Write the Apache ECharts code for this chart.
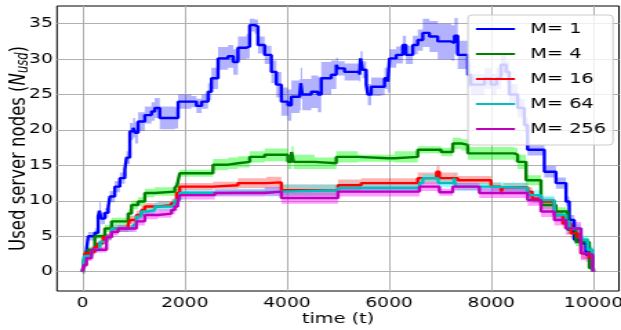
<!DOCTYPE html>
<html>
<head>
<meta charset="utf-8">
<script src="https://cdn.jsdelivr.net/npm/echarts@6.0.0/dist/echarts.min.js"></script>
<style>
  html, body { margin: 0; padding: 0; background: #fff; overflow: hidden; }
  /* the reference picture is stretched sideways, so the chart is drawn narrow and widened */
  #chart { width: 450px; height: 330px; transform: scaleX(1.38); transform-origin: 0 0; }
</style>
</head>
<body>
<div id="chart"></div>
<script>
// [time, mean, spread] for each M
var m1 = [[0,0,0.3],[40,1.5,0.5],[78,3.1,0.6],[110,5,0.6],[240,5.5,0.6],[305,7.8,0.8],[330,8.6,1.2],[360,7.5,0.8],[436,8.3,0.7],[500,9,0.8],[534,10.6,0.8],[630,12,0.8],[730,13.2,0.8],[827,14.4,0.9],[860,16.1,0.9],[925,19.8,1.2],[990,20.3,1.4],[1030,19.6,1.5],[1087,21.2,1.3],[1218,22.1,1.2],[1349,22.6,1.3],[1413,23.1,1.4],[1511,21.7,1.6],[1805,21.7,1.5],[1870,24,1.0],[2131,24,0.8],[2229,23.4,1.0],[2330,24,1.0],[2456,25.4,1.2],[2522,27.3,1.5],[2652,30.1,1.6],[2847,30.4,1.6],[2950,29.6,1.8],[3042,31.6,1.6],[3206,31.8,1.7],[3271,34.8,0.9],[3369,34.6,1.0],[3433,32,1.2],[3564,30.6,1.3],[3695,28.2,1.6],[3793,26.4,1.8],[3891,24,2.0],[4020,23.5,2.2],[4086,24.7,2.3],[4250,25,2.2],[4270,26.6,2.2],[4300,25,2.2],[4477,25.4,2.3],[4607,25,2.5],[4672,27.3,2.3],[4868,27.8,2.0],[4966,29.2,1.0],[5000,28.7,1.0],[5128,28.2,1.2],[5421,27.8,1.0],[5440,30.1,1.0],[5480,28.5,1.2],[5552,26.4,1.5],[5584,25,1.5],[5650,26.1,1.3],[5845,26.1,1.2],[5910,27.3,1.5],[5975,26.8,1.5],[6008,30.1,1.3],[6139,30.6,1.2],[6268,32,1.3],[6330,30.6,1.3],[6464,32,1.3],[6561,32.7,1.5],[6659,33.7,2.0],[6790,33.2,2.2],[6952,32.5,2.5],[7214,32.3,2.5],[7280,33.3,2.5],[7343,30.6,2.0],[7460,30.6,2.0],[7539,27.8,1.8],[7600,26.4,1.5],[7867,27.3,1.5],[8000,26.4,1.5],[8100,27.3,1.5],[8191,29.2,1.5],[8290,28.2,1.5],[8353,25,1.5],[8516,23.1,1.3],[8647,20.7,1.0],[8711,17.2,0.8],[9038,14.1,0.8],[9266,12.5,0.8],[9462,9.9,0.7],[9527,7.3,0.7],[9624,4.5,0.6],[9787,4,0.6],[9853,2.4,0.6],[9982,0.5,0.4],[10000,0,0.3]];
var m4 = [[0,0,0.3],[45,2.4,0.4],[100,3.1,0.4],[240,5,0.4],[436,6.1,0.5],[567,7.1,0.5],[892,8.2,0.6],[958,9.4,0.6],[1087,9.9,0.6],[1218,11.1,0.6],[1413,11.3,0.6],[1805,11.8,0.7],[1850,12.2,0.7],[1902,13.9,0.5],[2553,15.1,0.8],[2847,15.3,0.8],[3042,15.5,0.8],[3271,16.2,0.8],[3564,16.5,0.9],[4020,15.5,1.0],[4090,16.9,0.8],[4130,15.5,1.0],[4541,15.3,0.8],[4966,16.2,0.8],[5388,16,0.5],[5975,16,0.5],[6106,16.2,0.8],[6561,17.2,0.5],[7018,16.9,0.6],[7245,18.1,0.8],[7409,17.9,0.8],[7539,16.7,0.9],[8451,16.5,1.0],[8516,15.5,1.0],[8680,12.9,0.7],[8973,9.4,0.6],[9266,8.5,0.6],[9494,5.9,0.6],[9657,4.2,0.6],[9918,0.5,0.3],[10000,0,0.3]];
var m16 = [[0,0,0.2],[45,2.6,0.4],[143,2.8,0.4],[240,3.5,0.4],[305,4,0.4],[403,4.9,0.4],[567,6.1,0.5],[892,6.6,0.6],[925,7.3,0.6],[1055,8,0.6],[1153,8.7,0.6],[1218,9.2,0.5],[1478,9.4,0.5],[1740,9.7,0.6],[1838,11.1,0.6],[1902,12,0.5],[2553,12.2,0.5],[3042,12.5,0.7],[3597,12.6,0.8],[3891,11.5,0.8],[5000,12.2,0.8],[5454,12.5,0.7],[6561,13.2,0.8],[6930,14.1,0.8],[6985,13.2,0.8],[7343,12.9,0.6],[7996,12,0.6],[8191,11.3,0.5],[8230,11.9,0.6],[8711,11.3,0.6],[8800,10.3,0.6],[8973,9.9,0.6],[9233,8,0.6],[9400,6.8,0.7],[9560,5.4,0.8],[9700,4.8,0.8],[9755,2.6,0.8],[9918,2,0.6],[9982,0.8,0.5],[10000,0,0.3]];
var m64 = [[0,0,0.2],[30,2.2,0.4],[176,3.1,0.4],[338,4.2,0.4],[469,4.9,0.4],[567,6.1,0.5],[990,6.6,0.5],[1055,7.8,0.5],[1153,8.5,0.5],[1300,8.7,0.6],[1413,9.2,0.6],[1740,9.4,0.6],[1805,10.1,0.6],[1902,11.1,0.5],[2587,11.2,0.5],[3564,11.3,0.7],[3891,11.5,0.8],[5000,11.8,0.7],[6594,12.5,0.6],[6659,13.2,0.6],[6960,12.5,0.6],[7270,13.2,0.6],[7311,12,0.6],[7963,11.8,0.8],[8711,10.8,0.7],[8973,10.1,0.6],[9233,8,0.6],[9462,7.1,0.6],[9527,6.1,0.6],[9755,4.5,0.6],[9885,3.1,0.6],[9982,1,0.5],[10000,0,0.3]];
var m256 = [[0,0,0.2],[20,0.9,0.3],[78,1.9,0.4],[176,3.1,0.4],[469,4.9,0.5],[567,5.6,0.5],[697,6.1,0.5],[1055,7.1,0.6],[1218,8,0.6],[1478,8.2,0.6],[1740,8.7,0.6],[1805,9.2,0.6],[1860,9.7,0.6],[1902,10.8,0.6],[2587,11.1,0.5],[3564,11.3,0.6],[3891,10.4,0.8],[5000,11.3,0.7],[6594,12,0.6],[6985,11.2,0.5],[7245,12,0.5],[7767,11.1,0.7],[8711,10.1,0.8],[8973,8.5,0.8],[9233,7.3,0.8],[9462,6.1,0.9],[9755,2.6,1.0],[9850,2.4,1.0],[9982,0.7,0.8],[10000,0,0.5]];

var names = ['M= 1', 'M= 4', 'M= 16', 'M= 64', 'M= 256'];
var runs = [m1, m4, m16, m64, m256];
var xTicks = [0, 2000, 4000, 6000, 8000, 10000];
var yTicks = [0, 5, 10, 15, 20, 25, 30, 35];

var lineColors = ['#0000ff', '#008000', '#ff0000', '#00bfbf', '#bf00bf'];
var bandColors = ['rgba(0,0,255,0.3)', 'rgba(0,255,0,0.42)', 'rgba(255,0,0,0.3)', 'rgba(0,255,255,0.38)', 'rgba(255,0,255,0.38)'];

var font = 'DejaVu Sans';
var chart = echarts.init(document.getElementById('chart'));

// step-shaped band between mean-spread and mean+spread
function bandSeries(run, i) {
  return {
    type: 'custom', silent: true, clip: true,
    data: run.map(function (p) { return [p[0], p[1]]; }),
    renderItem: function (params, api) {
      if (params.dataIndex !== 0) return;
      var up = [], lo = [];
      for (var k = 0; k < run.length; k++) {
        var t0 = run[k][0];
        var t1 = k + 1 < run.length ? run[k + 1][0] : t0;
        var hi = run[k][1] + run[k][2], lw = run[k][1] - run[k][2];
        up.push(api.coord([t0, hi]), api.coord([t1, hi]));
        lo.push(api.coord([t0, lw]), api.coord([t1, lw]));
      }
      return {
        type: 'polygon',
        shape: { points: up.concat(lo.reverse()) },
        style: { fill: bandColors[i] }
      };
    }
  };
}

var series = [];
runs.forEach(function (run, i) {
  series.push(bandSeries(run, i));
  series.push({
    name: names[i], type: 'line', step: 'end', symbol: 'none',
    color: lineColors[i], lineStyle: { width: 2.4, color: lineColors[i] },
    data: run.map(function (p) { return [p[0], p[1]]; })
  });
});

var option = {
  animation: false,
  backgroundColor: '#fff',
  textStyle: { fontFamily: font, color: '#000' },
  grid: {
    left: 41.3, right: 1.45, top: 6, bottom: 39, outerBoundsMode: 'none',
    show: true, borderColor: '#000', borderWidth: 1
  },
  legend: {
    data: names, orient: 'vertical', left: 339.1, top: 15,
    icon: 'rect', itemWidth: 28.3, itemHeight: 2, itemGap: 7,
    padding: [5, 5, 7, 5.8],
    backgroundColor: 'rgba(255,255,255,0.8)', borderColor: '#cccccc', borderWidth: 1, borderRadius: 3,
    textStyle: { fontFamily: font, fontSize: 14, color: '#000', lineHeight: 18, padding: [0, 0, 0, 6] }
  },
  xAxis: {
    type: 'value', min: -500, max: 10500,
    name: 'time (t)', nameLocation: 'middle', nameGap: 21, nameMoveOverlap: false,
    nameTextStyle: { fontFamily: font, fontSize: 14, color: '#000' },
    axisLine: { show: false },
    axisTick: { show: false, customValues: xTicks },
    axisLabel: {
      customValues: xTicks, fontFamily: font, fontSize: 13.5, color: '#000', margin: 5,
      formatter: function (v) { return String(v); }
    },
    splitLine: { show: true, lineStyle: { color: '#b0b0b0', width: 1 } }
  },
  yAxis: {
    type: 'value', min: -2.73, max: 37.5,
    name: '{a|Used server nodes (}{b|N}{c|usd}{a|)}', nameLocation: 'middle', nameGap: 18,
    nameRotate: 90, nameMoveOverlap: false,
    nameTextStyle: {
      fontFamily: font, fontSize: 16.5, color: '#000',
      rich: {
        a: { fontFamily: font, fontSize: 16.5, color: '#000', lineHeight: 20, verticalAlign: 'middle' },
        b: { fontFamily: font, fontSize: 16.5, fontStyle: 'italic', color: '#000', lineHeight: 20, verticalAlign: 'middle' },
        c: { fontFamily: font, fontSize: 11.5, fontStyle: 'italic', color: '#000', lineHeight: 11, verticalAlign: 'bottom' }
      }
    },
    axisLine: { show: false },
    axisTick: { show: false, customValues: yTicks },
    axisLabel: {
      customValues: yTicks, fontFamily: font, fontSize: 13.5, color: '#000', margin: 3,
      formatter: function (v) { return String(v); }
    },
    splitLine: { show: true, lineStyle: { color: '#b0b0b0', width: 1 } }
  },
  series: series
};

chart.setOption(option);
</script>
</body>
</html>
